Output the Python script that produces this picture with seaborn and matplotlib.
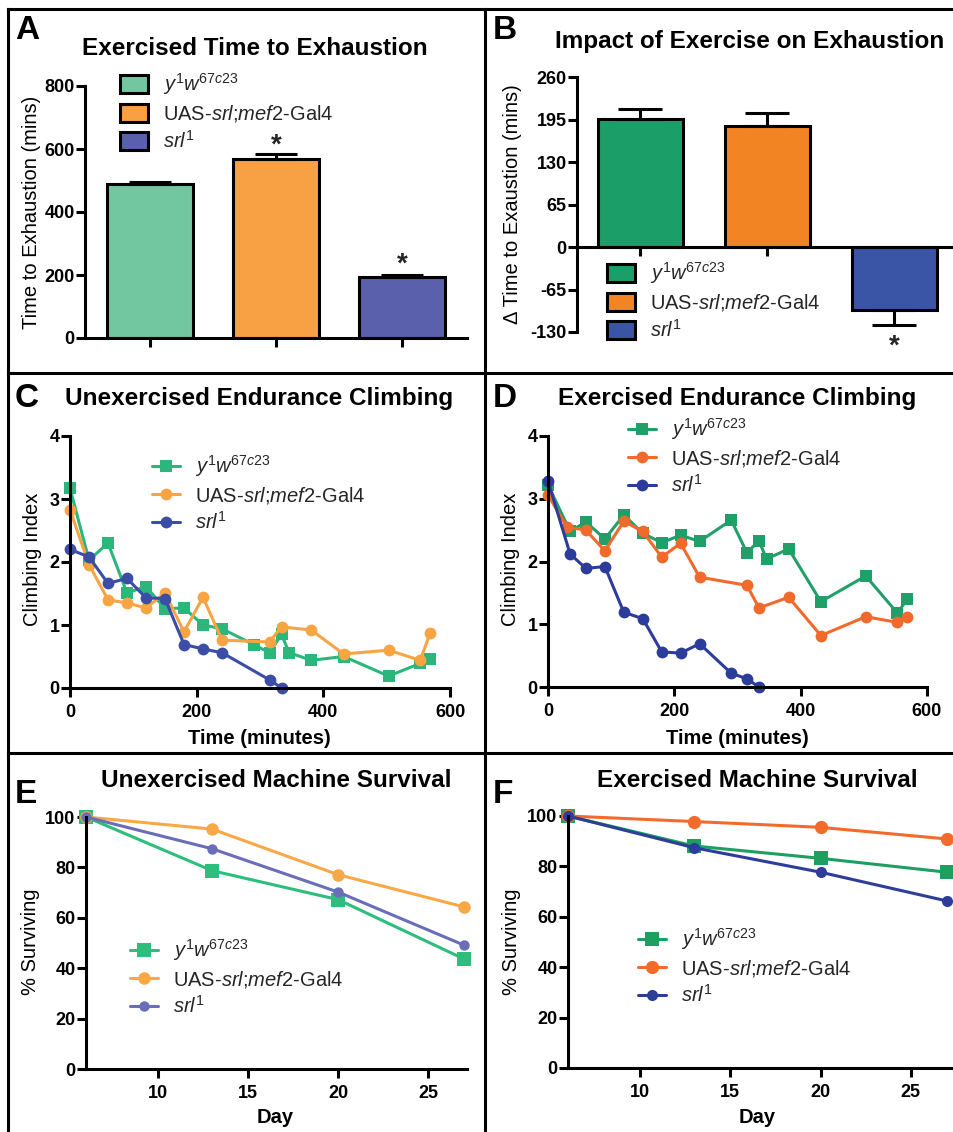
import numpy as np
import pandas as pd
import matplotlib
matplotlib.use("Agg")
import matplotlib.pyplot as plt
import seaborn as sns
from matplotlib.patches import Patch
from matplotlib.lines import Line2D

# ---------------- data ----------------
genotypes = ["y1w67c23", "UAS-srl;mef2-Gal4", "srl1"]
legend_labels = [r"$\mathit{y}^{\mathit{1}}\mathit{w}^{\mathit{67c23}}$",
                 r"UAS-$\mathit{srl}$;$\mathit{mef2}$-Gal4",
                 r"$\mathit{srl}^{\mathit{1}}$"]

a_time = [489, 569, 193]
a_err = [5, 14, 8]
a_ticks = [0, 200, 400, 600, 800]

b_delta = [196, 186, -96]
b_err = [16, 20, 23]
b_ticks = [-130, -65, 0, 65, 130, 195, 260]

c_green_t = [0, 30, 60, 90, 120, 150, 180, 210, 240, 290, 315, 334, 346, 381, 432, 503, 553, 569]
c_green_y = [3.17, 2.03, 2.30, 1.51, 1.61, 1.26, 1.27, 1.00, 0.94, 0.69, 0.56, 0.85, 0.56, 0.44, 0.50, 0.19, 0.39, 0.46]
c_orange_t = [0, 30, 60, 90, 120, 150, 180, 210, 240, 315, 334, 381, 432, 503, 553, 569]
c_orange_y = [2.83, 1.96, 1.40, 1.35, 1.27, 1.51, 0.89, 1.44, 0.76, 0.73, 0.97, 0.92, 0.54, 0.60, 0.44, 0.88]
c_blue_t = [0, 30, 60, 90, 120, 150, 180, 210, 240, 315, 334]
c_blue_y = [2.20, 2.08, 1.66, 1.74, 1.43, 1.42, 0.69, 0.62, 0.56, 0.13, 0.0]

d_green_t = [0, 35, 60, 90, 120, 150, 180, 210, 240, 290, 315, 334, 346, 381, 432, 503, 553, 569]
d_green_y = [3.22, 2.48, 2.63, 2.36, 2.74, 2.45, 2.30, 2.42, 2.32, 2.66, 2.14, 2.33, 2.04, 2.20, 1.36, 1.77, 1.18, 1.40]
d_orange_t = [0, 30, 60, 90, 120, 150, 180, 210, 240, 315, 334, 381, 432, 503, 553, 569]
d_orange_y = [3.06, 2.55, 2.50, 2.17, 2.64, 2.48, 2.07, 2.29, 1.75, 1.62, 1.26, 1.43, 0.82, 1.12, 1.03, 1.12]
d_blue_t = [0, 35, 60, 90, 120, 150, 180, 210, 240, 290, 315, 334]
d_blue_y = [3.28, 2.12, 1.89, 1.92, 1.19, 1.09, 0.56, 0.54, 0.69, 0.22, 0.13, 0.0]

days = [6, 13, 20, 27]
e_green = [100, 78.7, 67.2, 43.6]
e_orange = [100, 95.2, 77.1, 64.3]
e_blue = [100, 87.4, 70.2, 49.1]
f_green = [100, 88.1, 83.2, 77.7]
f_orange = [100, 97.8, 95.5, 90.9]
f_blue = [100, 87.4, 77.7, 66.3]

# ---------------- colours ----------------
colA = ["#72C7A0", "#F7A044", "#5A60AC"]
colB = ["#1B9E67", "#F38423", "#3B55A6"]
colC = ["#2BB67B", "#F8A442", "#3B4DA6"]
colD = ["#20A068", "#F26A2B", "#2C3C9B"]
colE = ["#2DBD7C", "#F9A847", "#6A6EB8"]
colF = ["#1D9F60", "#F36B2A", "#2C3D9A"]

# ---------------- style ----------------
sns.set_theme(style="ticks")
plt.rcParams["font.family"] = ["Liberation Sans", "DejaVu Sans"]
plt.rcParams["mathtext.fontset"] = "custom"
plt.rcParams["mathtext.rm"] = "Liberation Sans"
plt.rcParams["mathtext.it"] = "Liberation Sans:italic"
plt.rcParams["mathtext.bf"] = "Liberation Sans:bold"
plt.rcParams["axes.unicode_minus"] = False

W, H = 954, 1132
fig = plt.figure(figsize=(W / 100, H / 100), dpi=100)
fig.patch.set_facecolor("white")

LW = 2.2
TICK_FS = 13
LAB_FS = 14.5
TITLE_FS = 17.5
LET_FS = 24
LEG_FS = 14.5


def fx(px):
    return px / W


def fy(py):
    return 1 - py / H


def add_ax(l, r, top, bottom):
    return fig.add_axes([fx(l), fy(bottom), (r - l) / W, (bottom - top) / H])


def style(ax):
    for s in ["top", "right"]:
        ax.spines[s].set_visible(False)
    for s in ["left", "bottom"]:
        ax.spines[s].set_linewidth(LW)
        ax.spines[s].set_color("black")
    ax.tick_params(direction="out", length=6.5, width=LW, color="black",
                   labelsize=TICK_FS, labelcolor="black")
    ax.tick_params(axis="y", pad=1)
    ax.tick_params(axis="x", pad=5)
    ax.set_facecolor("none")
    ax.grid(False)
    ax.set_xlabel("")
    ax.set_ylabel("")


def bold_ticks(ax):
    for t in ax.get_xticklabels() + ax.get_yticklabels():
        t.set_fontweight("bold")


def put(text, x, y, size, weight="normal", rot=0, ha="center", va="center"):
    fig.text(fx(x), fy(y), text, fontsize=size, fontweight=weight, rotation=rot,
             ha=ha, va=va, color="black")


# ---------------- panel borders ----------------
for (x0, y0, x1, y1) in [(8, 9, 954, 9), (8, 9, 8, 1132), (485, 9, 485, 1132),
                         (8, 373, 954, 373), (8, 753, 954, 753)]:
    fig.add_artist(Line2D([fx(x0), fx(x1)], [fy(y0), fy(y1)], transform=fig.transFigure,
                          color="black", lw=LW, solid_capstyle="projecting"))

# ---------------- Panel A ----------------
axA = add_ax(85, 467, 86, 338)
dfA = pd.DataFrame({"g": genotypes, "v": a_time})
sns.barplot(data=dfA, x="g", y="v", hue="g", palette=colA, edgecolor="black",
            linewidth=LW, width=0.68, legend=False, ax=axA, errorbar=None, saturation=1)
axA.errorbar([0, 1, 2], a_time, yerr=[[0, 0, 0], a_err], fmt="none", ecolor="black",
             elinewidth=LW, capsize=15, capthick=LW, zorder=1)
style(axA)
axA.set_ylim(0, 800)
axA.set_xlim(-0.51, 2.51)
axA.set_yticks(a_ticks)
axA.set_xticks([0, 1, 2], ["", "", ""])
bold_ticks(axA)
axA.text(1, 590, "*", ha="center", va="baseline", fontsize=20, fontweight="bold")
axA.text(2, 210, "*", ha="center", va="baseline", fontsize=20, fontweight="bold")
handlesA = [Patch(facecolor=c, edgecolor="black", linewidth=LW) for c in colA]
axA.legend(handlesA, legend_labels, loc="upper left", bbox_to_anchor=(fx(120), fy(71)),
           bbox_transform=fig.transFigure, frameon=False, fontsize=LEG_FS,
           handlelength=1.4, handleheight=1.0, handletextpad=0.75, labelspacing=0.3,
           borderpad=0, borderaxespad=0)

# ---------------- Panel B ----------------
axB = add_ax(577, 954, 77.3, 332)
dfB = pd.DataFrame({"g": genotypes, "v": b_delta})
sns.barplot(data=dfB, x="g", y="v", hue="g", palette=colB, edgecolor="black",
            linewidth=LW, width=0.67, legend=False, ax=axB, errorbar=None, saturation=1)
lowB = [0 if v > 0 else e for v, e in zip(b_delta, b_err)]
upB = [e if v > 0 else 0 for v, e in zip(b_delta, b_err)]
axB.errorbar([0, 1, 2], b_delta, yerr=[lowB, upB], fmt="none", ecolor="black",
             elinewidth=LW, capsize=16, capthick=LW, zorder=1, clip_on=False)
style(axB)
axB.spines["bottom"].set_position(("data", 0))
axB.set_ylim(-130, 260)
axB.set_xlim(-0.5, 2.47)
axB.set_yticks(b_ticks)
axB.set_xticks([0, 1, 2], ["", "", ""])
bold_ticks(axB)
axB.text(2, -163, "*", ha="center", va="baseline", fontsize=20, fontweight="bold",
         clip_on=False)
handlesB = [Patch(facecolor=c, edgecolor="black", linewidth=LW) for c in colB]
axB.legend(handlesB, legend_labels, loc="upper left", bbox_to_anchor=(fx(607), fy(260)),
           bbox_transform=fig.transFigure, frameon=False, fontsize=LEG_FS,
           handlelength=1.4, handleheight=1.0, handletextpad=0.75, labelspacing=0.3,
           borderpad=0, borderaxespad=0)


# ---------------- line panels ----------------
def line_panel(ax, series, cols, markers, msizes, lw):
    for (t, y), c, m, ms in zip(series, cols, markers, msizes):
        df = pd.DataFrame({"t": t, "y": y})
        sns.lineplot(data=df, x="t", y="y", ax=ax, color=c, marker=m, markersize=ms,
                     linewidth=lw, markeredgewidth=0, markeredgecolor=c, clip_on=False,
                     sort=False, estimator=None)
    style(ax)


def line_legend(ax, cols, markers, msizes, lw, anchor):
    hs = [Line2D([0], [0], color=c, marker=m, markersize=ms, lw=lw, markeredgewidth=0)
          for c, m, ms in zip(cols, markers, msizes)]
    ax.legend(hs, legend_labels, loc="upper left", bbox_to_anchor=(fx(anchor[0]), fy(anchor[1])),
              bbox_transform=fig.transFigure, frameon=False, fontsize=LEG_FS,
              handlelength=1.4, handletextpad=0.75, labelspacing=0.28,
              borderpad=0, borderaxespad=0)


mk = ["s", "o", "o"]

axC = add_ax(70, 450, 436, 688)
line_panel(axC, [(c_green_t, c_green_y), (c_orange_t, c_orange_y), (c_blue_t, c_blue_y)],
           colC, mk, [9, 8.5, 8.5], LW)
axC.set_xlim(0, 600)
axC.set_ylim(0, 4)
axC.set_xticks([0, 200, 400, 600])
axC.set_yticks([0, 1, 2, 3, 4])
bold_ticks(axC)
line_legend(axC, colC, mk, [9, 8.5, 8.5], LW, (152, 453))

axD = add_ax(548, 927, 436, 687)
line_panel(axD, [(d_green_t, d_green_y), (d_orange_t, d_orange_y), (d_blue_t, d_blue_y)],
           colD, mk, [9, 8.5, 8.5], LW)
axD.set_xlim(0, 600)
axD.set_ylim(0, 4)
axD.set_xticks([0, 200, 400, 600])
axD.set_yticks([0, 1, 2, 3, 4])
bold_ticks(axD)
line_legend(axD, colD, mk, [9, 8.5, 8.5], LW, (628, 416))

axE = add_ax(86, 467, 817, 1069)
line_panel(axE, [(days, e_green), (days, e_orange), (days, e_blue)],
           colE, mk, [9.5, 9, 7.5], LW)
axE.set_xlim(6, 27.15)
axE.set_ylim(0, 100)
axE.set_xticks([10, 15, 20, 25])
axE.set_yticks([0, 20, 40, 60, 80, 100])
bold_ticks(axE)
line_legend(axE, colE, mk, [9.5, 9, 7.5], LW, (130, 937))

axF = add_ax(568, 954, 816, 1068)
line_panel(axF, [(days, f_green), (days, f_orange), (days, f_blue)],
           colF, mk, [9.5, 9.5, 8], LW)
axF.set_xlim(6, 27.4)
axF.set_ylim(0, 100)
axF.set_xticks([10, 15, 20, 25])
axF.set_yticks([0, 20, 40, 60, 80, 100])
bold_ticks(axF)
line_legend(axF, colF, mk, [9.5, 9.5, 8], LW, (638, 926))

# ---------------- texts ----------------
put("A", 15, 39, LET_FS, "bold", ha="left", va="baseline")
put("B", 493, 39, LET_FS, "bold", ha="left", va="baseline")
put("C", 15, 407, LET_FS, "bold", ha="left", va="baseline")
put("D", 493, 407, LET_FS, "bold", ha="left", va="baseline")
put("E", 15, 803, LET_FS, "bold", ha="left", va="baseline")
put("F", 493, 803, LET_FS, "bold", ha="left", va="baseline")

put("Exercised Time to Exhaustion", 255, 55, TITLE_FS, "bold", va="baseline")
put("Impact of Exercise on Exhaustion", 750, 48, TITLE_FS, "bold", va="baseline")
put("Unexercised Endurance Climbing", 259, 405, TITLE_FS, "bold", va="baseline")
put("Exercised Endurance Climbing", 737, 405, TITLE_FS, "bold", va="baseline")
put("Unexercised Machine Survival", 276, 787, TITLE_FS, "bold", va="baseline")
put("Exercised Machine Survival", 757, 787, TITLE_FS, "bold", va="baseline")

put("Time to Exhaustion (mins)", 32, 212, LAB_FS, rot=90)
put("\u0394 Time to Exaustion (mins)", 513, 204, LAB_FS, rot=90)
put("Climbing Index", 33, 559, LAB_FS, rot=90)
put("Climbing Index", 511, 559, LAB_FS, rot=90)
put("% Surviving", 31, 942, LAB_FS, rot=90)
put("% Surviving", 512, 942, LAB_FS, rot=90)

put("Time (minutes)", 259, 738, LAB_FS, "bold")
put("Time (minutes)", 737, 738, LAB_FS, "bold")
put("Day", 275, 1123, LAB_FS, "bold", va="baseline")
put("Day", 757, 1123, LAB_FS, "bold", va="baseline")

fig.savefig("out.png", dpi=100, facecolor="white")
